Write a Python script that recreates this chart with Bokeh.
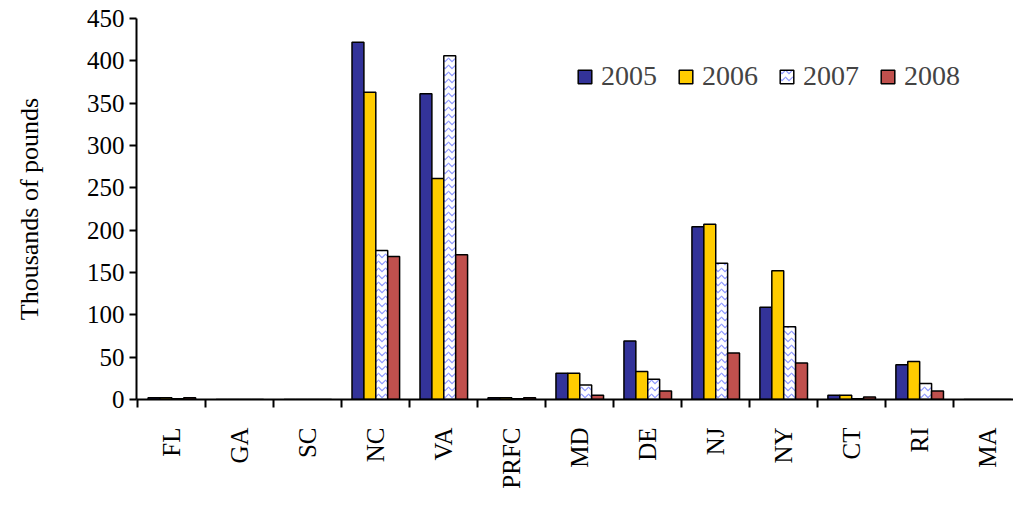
from bokeh.plotting import figure
from bokeh.models import FixedTicker, Legend, LegendItem, Range1d
from bokeh.embed import file_html
from bokeh.resources import INLINE

states = ["FL", "GA", "SC", "NC", "VA", "PRFC", "MD", "DE", "NJ", "NY", "CT", "RI", "MA"]
years = ["2005", "2006", "2007", "2008"]
v2005 = [2, 0, 0, 422, 361, 2, 31, 69, 204, 109, 5, 41, 0]
v2006 = [2, 0, 0, 363, 261, 2, 31, 33, 207, 152, 5, 45, 0]
v2007 = [1, 0, 0, 176, 406, 1, 17, 24, 161, 86, 1, 19, 0]
v2008 = [2, 0, 0, 169, 171, 2, 5, 10, 55, 43, 3, 10, 0]
series = [v2005, v2006, v2007, v2008]
colors = ["#333399", "#ffcc00", "#ffffff", "#c0504d"]

FONT = "Liberation Serif"

p = figure(width=1013, height=491, output_backend="svg", toolbar_location=None,
           x_range=Range1d(-0.52, 12.38), y_range=Range1d(0, 450),
           min_border_top=18, min_border_right=0, min_border_left=136)
p.outline_line_color = None
p.grid.visible = False

bw = 0.175
items = []
for i, (vals, col) in enumerate(zip(series, colors)):
    xs = [k + (i - 1.5) * bw for k in range(len(states))]
    kw = {}
    if i == 2:
        kw = dict(hatch_pattern="v", hatch_color="#8c96ff", hatch_scale=7, hatch_weight=1.2)
    r = p.vbar(x=xs, top=vals, width=bw, fill_color=col, line_color="black", line_width=1.5, **kw)
    items.append(LegendItem(label=years[i], renderers=[r]))

legend = Legend(items=items, orientation="horizontal", location=(440, 307),
                border_line_color=None, background_fill_alpha=0,
                label_text_font=FONT, label_text_font_size="28px",
                glyph_width=17, glyph_height=17, spacing=20, label_standoff=8)
p.add_layout(legend)

p.xaxis.ticker = FixedTicker(ticks=list(range(len(states))),
                             minor_ticks=[k + 0.5 for k in range(-1, len(states))])
p.xaxis.major_label_overrides = {k: s for k, s in enumerate(states)}
p.xaxis.major_label_orientation = 1.5708
p.xaxis.major_tick_out = 0
p.xaxis.major_tick_in = 0
p.xaxis.minor_tick_out = 8
p.xaxis.minor_tick_in = 0
p.xaxis.major_label_standoff = 20

p.yaxis.ticker = FixedTicker(ticks=list(range(0, 451, 50)))
p.yaxis.minor_tick_line_color = None
p.yaxis.major_tick_out = 7
p.yaxis.major_tick_in = 0
p.yaxis.axis_label = "Thousands of pounds"
p.yaxis.axis_label_standoff = 40

for ax in (p.xaxis, p.yaxis):
    ax.axis_line_color = "black"
    ax.axis_line_width = 2
    ax.major_tick_line_width = 2
    ax.minor_tick_line_width = 2
    ax.major_label_text_font = FONT
    ax.major_label_text_font_size = "25px"
    ax.major_label_text_color = "black"
    ax.axis_label_text_font = FONT
    ax.axis_label_text_font_size = "26px"
    ax.axis_label_text_color = "black"
    ax.axis_label_text_font_style = "normal"

open("out.html", "w").write(file_html(p, INLINE))
